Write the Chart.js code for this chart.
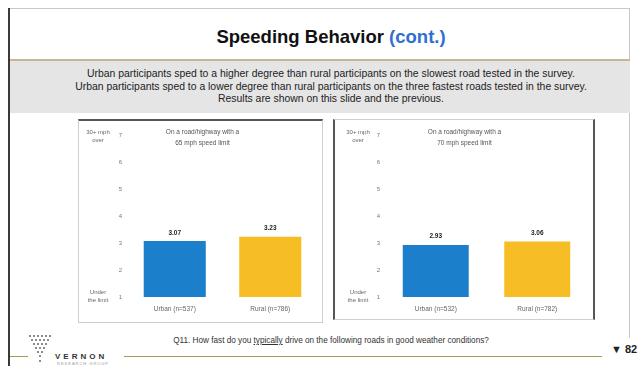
<!DOCTYPE html>
<html><head><meta charset="utf-8">
<script src="https://cdn.jsdelivr.net/npm/chart.js@4.4.1/dist/chart.umd.min.js"></script>
<style>
html,body{margin:0;padding:0;background:#fff;width:638px;height:366px;overflow:hidden;font-family:"Liberation Sans",Arial,sans-serif;}
.abs{position:absolute;}
#frameL{left:8px;top:8px;width:2px;height:358px;background:#3a3a3a;}
#frameT{left:10px;top:8px;width:620px;height:1px;background:#c8c8c8;}
#frameR{left:629px;top:8px;width:1px;height:330px;background:#c8c8c8;}
#title{left:20px;top:26px;width:622px;text-align:center;font-size:18.5px;font-weight:bold;color:#111;}
#title span{color:#2f6fcf;}
#tan{left:10px;top:59px;width:620px;height:2px;background:#c9b58f;}
#band{left:10px;top:61px;width:620px;height:52px;background:#e5e5e5;}
#sub{left:20px;top:68px;width:622px;text-align:center;font-size:10.4px;line-height:12.5px;color:#222;}
.panel{border:1px solid #cfcfcf;background:#fff;}
#p1{left:78px;top:119px;width:243px;height:201px;border-top:2px solid #555;}
#p2{left:333px;top:119px;width:258px;height:199px;border-left:2px solid #555;border-right:2px solid #555;}
canvas{position:absolute;}
#q{left:96px;top:336px;width:470px;text-align:center;font-size:8.2px;color:#333;}
#q u{text-decoration:underline;}
#olive1{left:10px;top:356px;width:18px;height:1px;background:#a89a55;}
#olive2{left:124px;top:356px;width:478px;height:1px;background:#a89a55;}
#vernon{left:55px;top:352px;font-size:8px;font-weight:bold;letter-spacing:3px;color:#333;}
#rg{left:57px;top:361px;font-size:4px;letter-spacing:1px;color:#999;}
#pg{left:611px;top:343px;font-size:11px;font-weight:bold;color:#222;}
</style></head>
<body>
<div class="abs" id="frameL"></div>
<div class="abs" id="frameT"></div>
<div class="abs" id="frameR"></div>
<div class="abs" id="title">Speeding Behavior <span>(cont.)</span></div>
<div class="abs" id="tan"></div>
<div class="abs" id="band"></div>
<div class="abs" id="sub">Urban participants sped to a higher degree than rural participants on the slowest road tested in the survey.<br>Urban participants sped to a lower degree than rural participants on the three fastest roads tested in the survey.<br>Results are shown on this slide and the previous.</div>
<div class="abs panel" id="p1"></div>
<div class="abs panel" id="p2"></div>
<canvas id="c1" width="240" height="198" style="left:80px;top:121px;width:240px;height:198px"></canvas>
<canvas id="c2" width="254" height="198" style="left:336px;top:121px;width:254px;height:198px"></canvas>
<div class="abs" id="q">Q11. How fast do you <u>typically</u> drive on the following roads in good weather conditions?</div>
<svg class="abs" style="left:26px;top:334px" width="28" height="32">
<g fill="#666">
<circle cx="4" cy="2" r="1"/><circle cx="8" cy="2" r="1"/><circle cx="12" cy="2" r="1"/><circle cx="16" cy="2" r="1"/><circle cx="20" cy="2" r="1"/><circle cx="24" cy="2" r="1"/>
<circle cx="6" cy="6" r="1"/><circle cx="10" cy="6" r="1"/><circle cx="14" cy="6" r="1"/><circle cx="18" cy="6" r="1"/><circle cx="22" cy="6" r="1"/>
<circle cx="8" cy="10" r="1"/><circle cx="12" cy="10" r="1"/><circle cx="16" cy="10" r="1"/><circle cx="20" cy="10" r="1"/>
<circle cx="10" cy="14" r="1"/><circle cx="14" cy="14" r="1"/><circle cx="18" cy="14" r="1"/>
<circle cx="12" cy="18" r="1"/><circle cx="16" cy="18" r="1"/>
<circle cx="14" cy="22" r="1"/><circle cx="14" cy="27" r="1"/>
</g></svg>
<div class="abs" id="olive1"></div>
<div class="abs" id="vernon">VERNON</div>
<div class="abs" id="rg">RESEARCH GROUP</div>
<div class="abs" id="olive2"></div>
<div class="abs" id="pg">▼ 82</div>
<script>
// ---- data ----
const categoriesLeft = ["Urban (n=537)", "Rural (n=786)"];
const categoriesRight = ["Urban (n=532)", "Rural (n=782)"];
const valuesLeft = [3.07, 3.23];
const valuesRight = [2.93, 3.06];
const titleLeft = ["On a road/highway with a", "65 mph speed limit"];
const titleRight = ["On a road/highway with a", "70 mph speed limit"];
const tickValues = [1, 2, 3, 4, 5, 6, 7];
const scaleTop = ["30+ mph", "over"];
const scaleBottom = ["Under", "the limit"];
const barColors = ["#1b7fcc", "#f6bd25"];

const decor = {
  id: "decor",
  afterDatasetsDraw(chart, args, opts) {
    const ctx = chart.ctx, ca = chart.chartArea, y = chart.scales.y;
    ctx.save();
    ctx.fillStyle = "#555"; ctx.font = "6.5px 'Liberation Sans', Arial"; ctx.textAlign = "center"; ctx.textBaseline = "middle";
    const cx = (ca.left + ca.right) / 2 - opts.titleShift;
    opts.title.forEach((t, i) => ctx.fillText(t, cx, ca.top - 3 + i * 11));
    const lx = opts.labelX;
    ctx.fillStyle = "#666"; ctx.font = "6px 'Liberation Sans', Arial";
    const yt = y.getPixelForValue(tickValues[tickValues.length - 1]);
    scaleTop.forEach((t, i) => ctx.fillText(t, lx, yt - 3 + i * 8));
    const yb = y.getPixelForValue(tickValues[0]);
    scaleBottom.forEach((t, i) => ctx.fillText(t, lx, yb - 5 + i * 8));
    ctx.fillStyle = "#222"; ctx.font = "bold 6.5px 'Liberation Sans', Arial"; ctx.textBaseline = "bottom";
    const meta = chart.getDatasetMeta(0);
    meta.data.forEach((bar, i) => {
      ctx.fillText(chart.data.datasets[0].data[i].toFixed(2), bar.x, bar.y - 5);
    });
    ctx.restore();
  }
};

function makeChart(id, cats, vals, title, yWidth, labelX, titleShift) {
  new Chart(document.getElementById(id), {
    type: "bar",
    data: { labels: cats, datasets: [{ data: vals, backgroundColor: barColors, barPercentage: 0.65, categoryPercentage: 1.0 }] },
    options: {
      responsive: false, animation: false, devicePixelRatio: 1,
      layout: { padding: { top: 14, right: 2, left: 0, bottom: 0 } },
      plugins: { legend: { display: false }, tooltip: { enabled: false }, decor: { title: title, labelX: labelX, titleShift: titleShift } },
      scales: {
        x: {
          grid: { display: false, drawTicks: false }, border: { display: false },
          ticks: { padding: 8, color: "#666", font: { size: 6.5, family: "'Liberation Sans', Arial" } },
          afterFit(s) { s.height = 22; }
        },
        y: {
          min: 1, max: 7,
          afterBuildTicks(s) { s.ticks = tickValues.map(v => ({ value: v })); },
          grid: { display: false, drawTicks: false }, border: { display: false },
          ticks: { padding: 5, color: "#777", font: { size: 6, family: "'Liberation Sans', Arial" } },
          afterFit(s) { s.width = yWidth; }
        }
      }
    },
    plugins: [decor]
  });
}
makeChart("c1", categoriesLeft, valuesLeft, titleLeft, 47, 18, 20);
makeChart("c2", categoriesRight, valuesRight, titleRight, 49, 22, 22);
</script>
</body></html>
